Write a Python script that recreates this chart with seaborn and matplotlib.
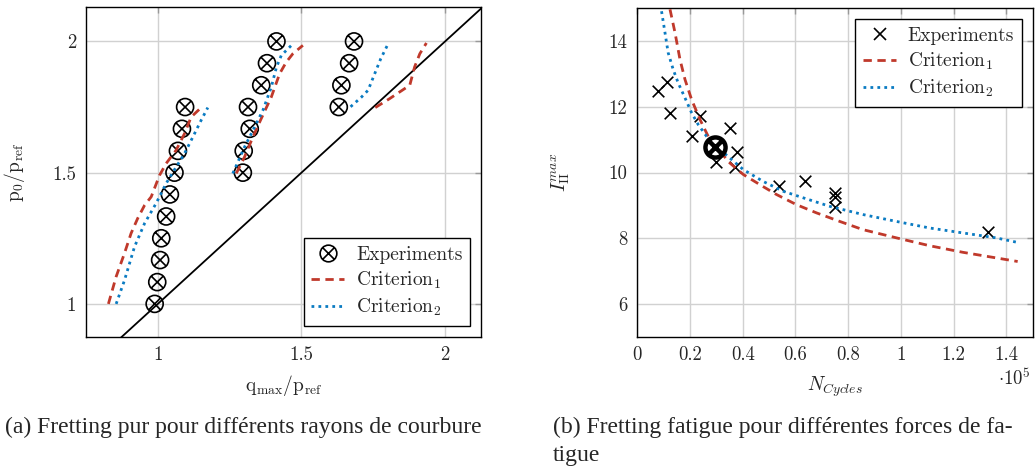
import matplotlib
matplotlib.use("Agg")
import matplotlib.pyplot as plt
import seaborn as sns
from matplotlib.path import Path
from matplotlib.lines import Line2D
from matplotlib.ticker import FuncFormatter

# ---- (a) fretting pur : trois rayons de courbure ----
exp_a1_q = [0.989, 0.998, 1.008, 1.012, 1.029, 1.042, 1.058, 1.070, 1.084, 1.095]
exp_a1_p = [1.0, 1.083, 1.167, 1.25, 1.333, 1.417, 1.5, 1.583, 1.667, 1.75]
exp_a2_q = [1.296, 1.299, 1.320, 1.314, 1.360, 1.380, 1.413]
exp_a2_p = [1.5, 1.583, 1.667, 1.75, 1.833, 1.917, 2.0]
exp_a3_q = [1.630, 1.639, 1.666, 1.683]
exp_a3_p = [1.75, 1.833, 1.917, 2.0]

crit1_a1_q = [0.828, 0.855, 0.884, 0.907, 0.930, 0.954, 0.977, 1.006, 1.029, 1.064, 1.093, 1.116, 1.151]
crit1_a1_p = [1.0, 1.104, 1.193, 1.269, 1.326, 1.376, 1.408, 1.49, 1.535, 1.586, 1.649, 1.712, 1.748]
crit1_a2_q = [1.273, 1.302, 1.331, 1.360, 1.395, 1.424, 1.447, 1.470, 1.505]
crit1_a2_p = [1.497, 1.56, 1.636, 1.706, 1.788, 1.877, 1.921, 1.953, 1.985]
crit1_a3_q = [1.757, 1.807, 1.877, 1.894, 1.912, 1.935]
crit1_a3_p = [1.748, 1.782, 1.833, 1.903, 1.953, 1.994]

crit2_a1_q = [0.855, 0.884, 0.919, 0.954, 0.994, 1.029, 1.064, 1.093, 1.122, 1.151, 1.174]
crit2_a1_p = [1.0, 1.09, 1.218, 1.307, 1.383, 1.459, 1.522, 1.573, 1.636, 1.70, 1.748]
crit2_a2_q = [1.261, 1.302, 1.337, 1.366, 1.395, 1.413, 1.430, 1.465]
crit2_a2_p = [1.497, 1.598, 1.674, 1.738, 1.826, 1.902, 1.947, 1.985]
crit2_a3_q = [1.671, 1.709, 1.732, 1.755, 1.776, 1.799]
crit2_a3_p = [1.751, 1.788, 1.814, 1.877, 1.934, 1.985]

diag = [0.75, 2.125]

# ---- (b) fretting fatigue : N en unites de 1e5 cycles ----
exp_b_n = [0.080, 0.111, 0.124, 0.206, 0.238, 0.298, 0.351, 0.377, 0.370,
           0.537, 0.638, 0.749, 0.749, 0.749, 1.33]
exp_b_i = [12.48, 12.75, 11.82, 11.10, 11.71, 10.31, 11.36, 10.62, 10.17,
           9.60, 9.75, 9.38, 9.25, 8.94, 8.18]
ref_b_n = [0.294]
ref_b_i = [10.78]

crit1_b_n = [0.124, 0.143, 0.162, 0.181, 0.206, 0.238, 0.269, 0.307, 0.351, 0.402, 0.465,
             0.528, 0.604, 0.680, 0.768, 0.856, 0.983, 1.109, 1.235, 1.361, 1.443]
crit1_b_i = [14.97, 14.26, 13.44, 12.83, 12.22, 11.61, 11.10, 10.70, 10.29, 9.94, 9.63,
             9.33, 9.02, 8.77, 8.51, 8.26, 8.01, 7.77, 7.57, 7.40, 7.29]
crit2_b_n = [0.092, 0.105, 0.117, 0.136, 0.155, 0.181, 0.206, 0.231, 0.263, 0.307, 0.351,
             0.402, 0.477, 0.553, 0.629, 0.730, 0.856, 0.983, 1.109, 1.235, 1.361, 1.443]
crit2_b_i = [14.91, 14.26, 13.65, 13.14, 12.73, 12.27, 11.82, 11.46, 11.10, 10.75, 10.44,
             10.09, 9.73, 9.43, 9.23, 8.97, 8.72, 8.51, 8.31, 8.16, 8.01, 7.87]

RED = "#c0392b"
BLUE = "#0a7bc2"
DASH = (0, (3, 2))
DOT = (0, (1, 1.5))

sns.set_style("whitegrid", {"grid.color": ".82", "axes.edgecolor": "black",
                            "xtick.direction": "in", "ytick.direction": "in"})
plt.rcParams["font.family"] = ["cmr10"]
plt.rcParams["mathtext.fontset"] = "cm"
plt.rcParams["axes.formatter.use_mathtext"] = True
plt.rcParams["axes.unicode_minus"] = False

# marqueur cercle barre
s2 = 0.7071
circ_x = Path.make_compound_path(
    Path.unit_circle(),
    Path([[-s2, -s2], [s2, s2]], [Path.MOVETO, Path.LINETO]),
    Path([[-s2, s2], [s2, -s2]], [Path.MOVETO, Path.LINETO]),
)

fig = plt.figure(figsize=(10.35, 4.7), dpi=100)
W, H = 1035, 470
ax1 = fig.add_axes([86 / W, 1 - 336.7 / H, (481 - 86) / W, (336.7 - 7.3) / H])
ax2 = fig.add_axes([637.3 / W, 1 - 336.7 / H, (1032.7 - 637.3) / W, (336.7 - 8.3) / H])

fmt = FuncFormatter(lambda v, p: "%g" % v)
for ax in (ax1, ax2):
    for sp in ax.spines.values():
        sp.set_color("black")
        sp.set_linewidth(1.0)
    ax.tick_params(direction="in", length=4, width=1, color="0.6",
                   top=True, right=True, labelsize=13.5, pad=7)
    ax.grid(True, color=".82", linewidth=1)
    ax.xaxis.set_major_formatter(fmt)
    ax.yaxis.set_major_formatter(fmt)

# ---------- (a) ----------
sns.lineplot(x=diag, y=diag, ax=ax1, color="black", linewidth=1.3, estimator=None, sort=False)
for q, p in [(exp_a1_q, exp_a1_p), (exp_a2_q, exp_a2_p), (exp_a3_q, exp_a3_p)]:
    sns.scatterplot(x=q, y=p, ax=ax1, marker=circ_x, s=150, color="black",
                    facecolor="none", edgecolor="black", linewidth=1.2, zorder=3)
for q, p in [(crit1_a1_q, crit1_a1_p), (crit1_a2_q, crit1_a2_p), (crit1_a3_q, crit1_a3_p)]:
    sns.lineplot(x=q, y=p, ax=ax1, color=RED, linewidth=2, linestyle=DASH,
                 estimator=None, sort=False, zorder=4)
for q, p in [(crit2_a1_q, crit2_a1_p), (crit2_a2_q, crit2_a2_p), (crit2_a3_q, crit2_a3_p)]:
    sns.lineplot(x=q, y=p, ax=ax1, color=BLUE, linewidth=2, linestyle=DOT,
                 estimator=None, sort=False, zorder=4)

ax1.set_xlim(0.75, 2.125)
ax1.set_ylim(0.875, 2.13)
ax1.set_xticks([1, 1.5, 2])
ax1.set_yticks([1, 1.5, 2])
ax1.set_xlabel(r"$\mathrm{q_{max}/p_{ref}}$", fontsize=14)
ax1.set_ylabel(r"$\mathrm{p_0/p_{ref}}$", fontsize=14)
ax1.xaxis.set_label_coords(0.5, -0.11)
ax1.yaxis.set_label_coords(-0.15, 0.5)

handles_a = [
    Line2D([], [], linestyle="none", marker=circ_x, markersize=12, markerfacecolor="none",
           markeredgecolor="black", markeredgewidth=1.2),
    Line2D([], [], color=RED, linewidth=2, linestyle=DASH),
    Line2D([], [], color=BLUE, linewidth=2, linestyle=DOT),
]
labels = ["Experiments", r"Criterion$_1$", r"Criterion$_2$"]
leg = ax1.legend(handles_a, labels, loc="lower right", fontsize=14, frameon=True,
                 fancybox=False, framealpha=1, edgecolor="black", borderaxespad=0.55,
                 handlelength=1.7, handletextpad=0.6, labelspacing=0.3, borderpad=0.4)
leg.get_frame().set_linewidth(1.0)

# ---------- (b) ----------
sns.scatterplot(x=exp_b_n, y=exp_b_i, ax=ax2, marker="x", s=70, color="black",
                linewidth=1.2, zorder=3)
sns.lineplot(x=crit1_b_n, y=crit1_b_i, ax=ax2, color=RED, linewidth=2, linestyle=DASH,
             estimator=None, sort=False, zorder=4)
sns.lineplot(x=crit2_b_n, y=crit2_b_i, ax=ax2, color=BLUE, linewidth=2, linestyle=DOT,
             estimator=None, sort=False, zorder=4)
sns.scatterplot(x=ref_b_n, y=ref_b_i, ax=ax2, marker=circ_x, s=210, color="black",
                facecolor="white", edgecolor="black", linewidth=3.2, zorder=5)

ax2.set_xlim(0, 1.5)
ax2.set_ylim(5, 15)
ax2.set_xticks([0, 0.2, 0.4, 0.6, 0.8, 1, 1.2, 1.4])
ax2.set_yticks([6, 8, 10, 12, 14])
ax2.set_xlabel(r"$N_{Cycles}$", fontsize=14)
ax2.set_ylabel(r"$I_{\mathrm{II}}^{max}$", fontsize=14)
ax2.xaxis.set_label_coords(0.5, -0.115)
ax2.yaxis.set_label_coords(-0.165, 0.5)

handles_b = [
    Line2D([], [], linestyle="none", marker="x", markersize=9, color="black",
           markeredgewidth=1.2),
    Line2D([], [], color=RED, linewidth=2, linestyle=DASH),
    Line2D([], [], color=BLUE, linewidth=2, linestyle=DOT),
]
leg = ax2.legend(handles_b, labels, loc="upper right", fontsize=14, frameon=True,
                 fancybox=False, framealpha=1, edgecolor="black", borderaxespad=0.55,
                 handlelength=1.7, handletextpad=0.6, labelspacing=0.3, borderpad=0.4)
leg.get_frame().set_linewidth(1.0)

fig.text(1031 / W, 1 - 379 / H, r"$\cdot 10^5$", ha="right", va="center", fontsize=13.5)

# legendes des sous-figures
cap = dict(family="Liberation Serif", fontsize=17, va="center")
fig.text(243 / W, 1 - 427 / H, "(a) Fretting pur pour différents rayons de courbure",
         ha="center", **cap)
fig.text(553 / W, 1 - 427 / H, "(b) Fretting fatigue pour différentes forces de fa-",
         ha="left", **cap)
fig.text(553 / W, 1 - 456 / H, "tigue", ha="left", **cap)

fig.savefig("out.png", dpi=100)
